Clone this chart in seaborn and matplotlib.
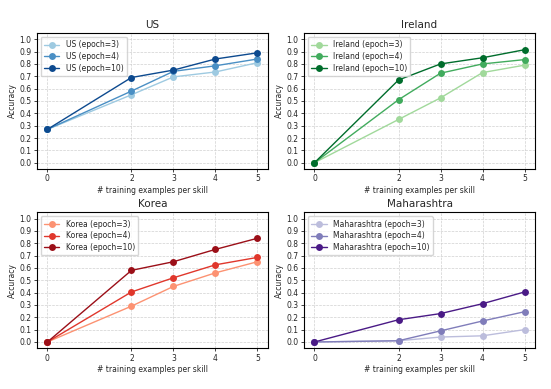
import matplotlib
matplotlib.use("Agg")
import matplotlib.pyplot as plt
import seaborn as sns
import pandas as pd

shots = [0, 2, 3, 4, 5]
epochs = [3, 4, 10]
regions = ["US", "Ireland", "Korea", "Maharashtra"]

us_e3 = [0.27, 0.55, 0.695, 0.735, 0.81]
us_e4 = [0.27, 0.58, 0.74, 0.785, 0.84]
us_e10 = [0.27, 0.69, 0.75, 0.84, 0.89]

ireland_e3 = [0.0, 0.35, 0.525, 0.73, 0.79]
ireland_e4 = [0.0, 0.51, 0.725, 0.80, 0.835]
ireland_e10 = [0.0, 0.67, 0.80, 0.85, 0.915]

korea_e3 = [0.0, 0.29, 0.45, 0.56, 0.65]
korea_e4 = [0.0, 0.405, 0.52, 0.625, 0.685]
korea_e10 = [0.0, 0.58, 0.65, 0.75, 0.84]

maha_e3 = [0.0, 0.01, 0.04, 0.05, 0.10]
maha_e4 = [0.0, 0.01, 0.09, 0.17, 0.245]
maha_e10 = [0.0, 0.18, 0.23, 0.31, 0.405]

series = {
    "US": [us_e3, us_e4, us_e10],
    "Ireland": [ireland_e3, ireland_e4, ireland_e10],
    "Korea": [korea_e3, korea_e4, korea_e10],
    "Maharashtra": [maha_e3, maha_e4, maha_e10],
}
palettes = {
    "US": ["#9ecae1", "#4a8fc4", "#0d4a8f"],
    "Ireland": ["#a1d99b", "#41ab5d", "#006d2c"],
    "Korea": ["#fc9272", "#e0372c", "#9b0f18"],
    "Maharashtra": ["#bcbddc", "#807dba", "#4a1a86"],
}

sns.set_style("ticks")
plt.rcParams["font.family"] = ["DejaVu Sans"]

fig, axes = plt.subplots(2, 2, figsize=(5.51, 3.89), dpi=100)
axes = axes.flatten()

for ax, region in zip(axes, regions):
    rows = []
    for ep, vals in zip(epochs, series[region]):
        for s, v in zip(shots, vals):
            rows.append({"shot": s, "acc": v, "label": f"{region} (epoch={ep})"})
    df = pd.DataFrame(rows)
    labels = [f"{region} (epoch={ep})" for ep in epochs]
    sns.lineplot(data=df, x="shot", y="acc", hue="label", hue_order=labels,
                 palette=palettes[region], marker="o", markersize=5,
                 markeredgewidth=0, linewidth=1.0, ax=ax)
    ax.set_title(region, fontsize=7.5, pad=4)
    ax.set_xlabel("# training examples per skill", fontsize=5.5, labelpad=2)
    ax.set_ylabel("Accuracy", fontsize=5.5, labelpad=2)
    ax.set_xticks(shots)
    ax.set_xticklabels([str(s) for s in shots])
    ax.set_yticks([i / 10 for i in range(11)])
    ax.set_yticklabels([f"{i/10:.1f}" for i in range(11)])
    ax.set_ylim(-0.05, 1.05)
    ax.set_xlim(-0.25, 5.25)
    ax.tick_params(labelsize=5.5, length=2.5, width=0.6, pad=1.5)
    ax.grid(True, linestyle="--", linewidth=0.5, color="#d0d0d0")
    for sp in ax.spines.values():
        sp.set_color("black")
        sp.set_linewidth(0.8)
    ax.legend(loc="upper left", fontsize=5.5, frameon=True, handlelength=2.0,
              borderpad=0.45, labelspacing=0.35, fancybox=True, framealpha=0.8)

fig.subplots_adjust(left=0.067, right=0.971, top=0.915, bottom=0.105,
                    wspace=0.156, hspace=0.32)
fig.savefig("out.png", dpi=100)
